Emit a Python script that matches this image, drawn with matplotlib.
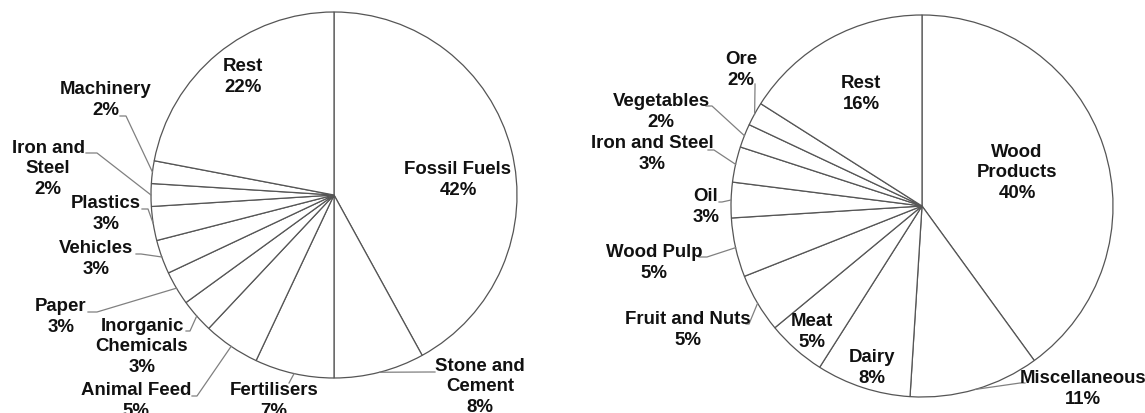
import numpy as np
import matplotlib.pyplot as plt

W, H = 1145, 414
plt.rcParams['font.family'] = ['Liberation Sans', 'DejaVu Sans']

# data
left_labels = ['Fossil Fuels', 'Stone and\nCement', 'Fertilisers', 'Animal Feed',
               'Inorganic\nChemicals', 'Paper', 'Vehicles', 'Plastics',
               'Iron and\nSteel', 'Machinery', 'Rest']
left_values = [42, 8, 7, 5, 3, 3, 3, 3, 2, 2, 22]

right_labels = ['Wood\nProducts', 'Miscellaneous', 'Dairy', 'Meat', 'Fruit and Nuts',
                'Wood Pulp', 'Oil', 'Iron and Steel', 'Vegetables', 'Ore', 'Rest']
right_values = [40, 11, 8, 5, 5, 5, 3, 3, 2, 2, 16]

# layout (pixels, origin top-left)
left_geom = (334, 196, 183)
left_text_pos = [(458, 180), (480, 387), (274, 401), (136, 401), (142, 347), (61, 317),
                 (96, 259), (106, 214), (48, 169), (106, 100), (243, 77)]
left_leaders = [None, [(435, 373), (430, 373)], [(289, 384), (289, 384)],
                [(192, 397), (197, 397)], [(186, 332), (190, 332)], [(88, 313), (97, 313)],
                [(136, 255), (141, 255)], [(142, 210), (148, 210)], [(86, 154), (97, 154)],
                [(120, 117), (126, 117)], None]

right_geom = (922, 207, 191)
right_text_pos = [(1017, 173), (1083, 389), (872, 368), (812, 332), (688, 330), (654, 263),
                  (706, 207), (652, 154), (661, 112), (741, 70), (861, 94)]
right_leaders = [None, [(1025, 384), (1020, 384)], None, None, [(746, 325), (749, 325)],
                 [(699, 258), (707, 258)], [(719, 203), (722, 203)], [(708, 151), (714, 151)],
                 [(706, 107), (712, 107)], [(755, 85), (755, 88)], None]


def draw_pie(fig, labels, values, geom, text_pos, leaders):
    cx, cy, r = geom
    ax = fig.add_axes([(cx - r) / W, (H - cy - r) / H, 2 * r / W, 2 * r / H])
    wedges, _ = ax.pie(values, startangle=90, counterclock=False, radius=1,
                       colors=['white'] * len(values),
                       wedgeprops=dict(edgecolor='#555555', linewidth=0.9))
    ax.set_xlim(-1, 1)
    ax.set_ylim(-1, 1)
    ax.set_aspect('equal')
    ax.axis('off')

    def to_data(p):
        return ((p[0] - cx) / r, (cy - p[1]) / r)

    for w, lab, v, pos, ld in zip(wedges, labels, values, text_pos, leaders):
        tx, ty = to_data(pos)
        ax.text(tx, ty, '%s\n%d%%' % (lab, v), ha='center', va='center',
                fontsize=13.4, fontweight='bold', color='#111111',
                linespacing=1.25, clip_on=False)
        if ld is not None:
            mid = np.deg2rad((w.theta1 + w.theta2) / 2)
            pts = [to_data(p) for p in ld] + [(np.cos(mid), np.sin(mid))]
            xs, ys = zip(*pts)
            ax.plot(xs, ys, color='#808080', lw=0.9, clip_on=False)
    return ax


fig = plt.figure(figsize=(W / 100, H / 100), dpi=100)
draw_pie(fig, left_labels, left_values, left_geom, left_text_pos, left_leaders)
draw_pie(fig, right_labels, right_values, right_geom, right_text_pos, right_leaders)
fig.savefig('out.png', dpi=100, facecolor='white')
